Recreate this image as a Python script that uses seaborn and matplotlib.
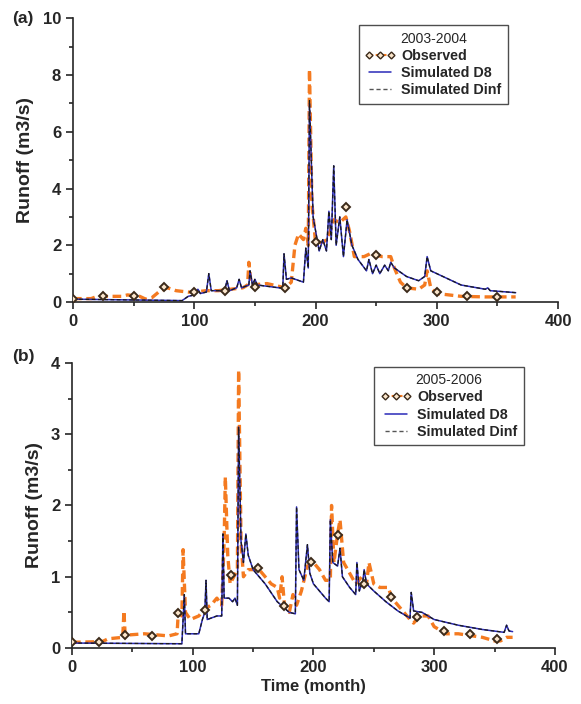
import numpy as np
import pandas as pd
import matplotlib
matplotlib.use("Agg")
import matplotlib.pyplot as plt
from matplotlib.lines import Line2D
from matplotlib.ticker import AutoMinorLocator
import seaborn as sns

# ---- panel (a) 2003-2004 ----
obs_a_day = [0, 15, 20, 40, 45, 55, 60, 65, 72, 78, 85, 95, 100, 110, 120, 130, 140, 144, 145, 147,
             160, 175, 180, 183, 186, 190, 192, 194, 195, 197, 200, 205, 210, 215, 220, 225, 228,
             232, 240, 245, 255, 262, 265, 270, 275, 285, 290, 292, 295, 300, 310, 320, 340, 365]
obs_a_val = [0.12, 0.12, 0.2, 0.2, 0.25, 0.2, 0.1, 0.15, 0.4, 0.5, 0.4, 0.35, 0.35, 0.4, 0.4, 0.45, 0.5, 0.6, 1.4, 0.6,
             0.65, 0.5, 0.7, 2.0, 2.4, 2.2, 2.6, 2.0, 8.2, 3.5, 2.1, 2.1, 2.2, 2.9, 2.8, 3.0, 2.5,
             1.6, 1.6, 1.7, 1.6, 1.6, 1.2, 0.7, 0.5, 0.45, 0.6, 1.1, 0.5, 0.3, 0.25, 0.2, 0.18, 0.18]
mark_a_day = [0, 25, 50, 75, 100, 125, 150, 175, 200, 225, 250, 275, 300, 325, 350]
mark_a_val = [0.12, 0.2, 0.22, 0.52, 0.35, 0.38, 0.52, 0.5, 2.1, 3.35, 1.65, 0.48, 0.35, 0.2, 0.18]

sim_a_day = [0, 90, 95, 100, 103, 105, 110, 112, 114, 125, 127, 129, 135, 137, 139, 145, 146, 148, 150, 152,
             170, 173, 174, 176, 180, 190, 192, 194, 195, 198, 203, 206, 209, 211, 213, 215, 217, 220,
             223, 226, 230, 235, 242, 244, 247, 250, 253, 257, 260, 262, 265, 275, 285, 290, 292, 295,
             305, 320, 340, 342, 344, 365]
sim_d8_a = [0.1, 0.05, 0.2, 0.25, 0.45, 0.3, 0.35, 1.0, 0.4, 0.4, 0.75, 0.4, 0.5, 0.8, 0.5, 0.6, 1.1, 0.6, 0.8, 0.6,
            0.5, 0.5, 1.7, 0.8, 0.85, 0.7, 1.9, 1.2, 7.0, 3.0, 1.8, 2.2, 1.8, 3.2, 2.2, 4.8, 2.0, 3.0,
            1.6, 2.9, 2.0, 1.5, 1.1, 1.5, 1.0, 1.3, 1.0, 1.3, 1.1, 1.4, 1.2, 0.9, 0.75, 0.9, 1.6, 1.1,
            0.9, 0.6, 0.45, 0.5, 0.4, 0.33]
sim_dinf_a = [0.1, 0.05, 0.2, 0.25, 0.45, 0.3, 0.35, 1.0, 0.4, 0.4, 0.75, 0.4, 0.5, 0.8, 0.5, 0.6, 1.1, 0.6, 0.8, 0.6,
              0.5, 0.5, 1.7, 0.8, 0.85, 0.7, 1.9, 1.2, 7.1, 3.0, 1.8, 2.2, 1.8, 3.2, 2.2, 4.8, 2.0, 3.0,
              1.6, 2.9, 2.0, 1.5, 1.1, 1.5, 1.0, 1.3, 1.0, 1.3, 1.1, 1.4, 1.2, 0.9, 0.75, 0.9, 1.6, 1.1,
              0.9, 0.6, 0.45, 0.5, 0.4, 0.33]

# ---- panel (b) 2005-2006 ----
obs_b_day = [0, 25, 30, 42, 43, 44, 60, 80, 87, 88, 91, 92, 94, 98, 105, 110, 115, 120, 124, 126, 127, 129,
             131, 134, 137, 138, 140, 142, 146, 155, 160, 165, 170, 172, 174, 176, 180, 183, 186, 190,
             195, 200, 205, 210, 214, 215, 217, 220, 222, 225, 230, 235, 240, 244, 246, 250, 255, 262,
             265, 270, 275, 280, 283, 288, 295, 300, 310, 320, 340, 350, 355, 360, 365]
obs_b_val = [0.08, 0.09, 0.13, 0.15, 0.52, 0.18, 0.2, 0.17, 0.2, 0.49, 0.45, 1.38, 0.5, 0.4, 0.45, 0.55, 0.6, 0.7, 0.6, 1.5, 2.4, 1.3,
             0.9, 1.0, 1.1, 3.9, 1.5, 1.0, 1.1, 1.1, 1.0, 0.9, 0.85, 0.7, 1.0, 0.6, 0.5, 0.75, 0.6, 0.8,
             1.15, 1.2, 1.1, 0.95, 0.95, 2.0, 1.2, 1.6, 1.8, 1.2, 1.05, 0.9, 1.0, 0.9, 1.2, 0.9, 0.85, 0.85,
             0.7, 0.6, 0.5, 0.4, 0.35, 0.45, 0.45, 0.3, 0.2, 0.2, 0.15, 0.1, 0.1, 0.15, 0.15]
mark_b_day = [0, 22, 44, 66, 88, 110, 132, 154, 176, 198, 220, 242, 264, 286, 308, 330, 352]
mark_b_val = [0.08, 0.09, 0.18, 0.17, 0.49, 0.53, 1.02, 1.12, 0.59, 1.2, 1.58, 0.9, 0.71, 0.43, 0.24, 0.19, 0.12]

sim_b_day = [0, 91, 92, 93, 94, 100, 105, 108, 110, 111, 112, 120, 124, 125, 126, 130, 133, 135, 137, 138,
             140, 142, 144, 146, 150, 160, 170, 180, 185, 186, 188, 192, 195, 197, 200, 210, 213, 214,
             216, 220, 222, 224, 230, 235, 236, 238, 241, 242, 244, 250, 260, 270, 280, 281, 283, 290,
             300, 320, 340, 358, 360, 362, 365]
sim_d8_b = [0.07, 0.06, 0.4, 0.75, 0.2, 0.2, 0.2, 0.4, 0.5, 0.95, 0.4, 0.45, 0.45, 1.6, 0.7, 0.7, 0.65, 0.7, 0.6, 3.1,
            1.5, 1.2, 1.6, 1.3, 1.1, 0.9, 0.65, 0.5, 0.48, 1.98, 1.1, 0.95, 1.45, 1.05, 0.9, 0.7, 0.65, 1.8,
            1.2, 1.15, 1.4, 1.0, 0.85, 0.75, 1.2, 0.8, 0.95, 1.1, 0.9, 0.8, 0.65, 0.52, 0.42, 0.78, 0.52, 0.5,
            0.4, 0.32, 0.26, 0.22, 0.32, 0.24, 0.23]
sim_dinf_b = [0.07, 0.06, 0.4, 0.75, 0.2, 0.2, 0.2, 0.4, 0.5, 0.95, 0.4, 0.45, 0.45, 1.6, 0.7, 0.7, 0.65, 0.7, 0.6, 3.1,
              1.5, 1.2, 1.6, 1.3, 1.1, 0.9, 0.65, 0.5, 0.48, 1.98, 1.1, 0.95, 1.45, 1.05, 0.9, 0.7, 0.65, 1.8,
              1.2, 1.15, 1.4, 1.0, 0.85, 0.75, 1.2, 0.8, 0.95, 1.1, 0.9, 0.8, 0.65, 0.52, 0.42, 0.78, 0.52, 0.5,
              0.4, 0.32, 0.26, 0.22, 0.32, 0.24, 0.23]

ORANGE = "#f47a20"
BLUE = "#2a2ab8"
MARK_FACE = "#fbe6cc"
MARK_EDGE = "#3b2a1a"

sns.set_style("ticks")
plt.rcParams["font.family"] = ["Liberation Sans", "DejaVu Sans"]
plt.rcParams["xtick.direction"] = "out"
plt.rcParams["ytick.direction"] = "out"


def draw_panel(ax, obs_day, obs_val, mark_day, mark_val, sim_day, d8, dinf, ymax, ystep, title, anchor):
    sns.lineplot(x=obs_day, y=obs_val, ax=ax, color=ORANGE, linestyle=(0, (2.6, 1.4)),
                 linewidth=2.4, estimator=None, sort=False)
    sns.lineplot(x=sim_day, y=d8, ax=ax, color=BLUE, linewidth=1.1, estimator=None, sort=False)
    sns.lineplot(x=sim_day, y=dinf, ax=ax, color="#1a1a1a", linestyle=(0, (3, 2)),
                 linewidth=0.9, estimator=None, sort=False)
    ax.plot(mark_day, mark_val, linestyle="none", marker="D", markersize=4.5,
            markerfacecolor=MARK_FACE, markeredgecolor=MARK_EDGE, markeredgewidth=1.4, zorder=5)

    ax.set_xlim(0, 400)
    ax.set_ylim(0, ymax)
    ax.set_xticks(np.arange(0, 401, 100))
    ax.set_yticks(np.arange(0, ymax + 0.01, ystep))
    ax.yaxis.set_minor_locator(AutoMinorLocator(2))
    ax.xaxis.set_minor_locator(AutoMinorLocator(2))
    ax.tick_params(which="major", length=5, width=1.2, labelsize=12)
    ax.tick_params(which="minor", length=3, width=1.2)
    for lab in ax.get_xticklabels() + ax.get_yticklabels():
        lab.set_fontweight("bold")
    for s in ["left", "bottom"]:
        ax.spines[s].set_linewidth(1.2)
    sns.despine(ax=ax)
    ax.set_ylabel("Runoff (m3/s)", fontsize=14, fontweight="bold", labelpad=6)
    ax.set_xlabel("")

    handles = [
        Line2D([], [], color=ORANGE, linestyle=(0, (2, 1.2)), linewidth=1.5, marker="D", markersize=3.5,
               markerfacecolor=MARK_FACE, markeredgecolor=MARK_EDGE),
        Line2D([], [], color=BLUE, linewidth=1.1),
        Line2D([], [], color="#555555", linestyle=(0, (3, 2)), linewidth=1.0),
    ]
    leg = ax.legend(handles, ["Observed", "Simulated D8", "Simulated Dinf"], title=title,
                    loc="upper right", bbox_to_anchor=anchor, numpoints=3, fontsize=10.3,
                    title_fontsize=10, frameon=True, fancybox=False, borderpad=0.45,
                    handlelength=2.1, handletextpad=0.45, labelspacing=0.22, borderaxespad=0)
    leg.get_frame().set_edgecolor("#222222")
    leg.get_frame().set_linewidth(1.0)
    for t in leg.get_texts():
        t.set_fontweight("bold")


fig = plt.figure(figsize=(5.81, 7.04), dpi=100)
ax_a = fig.add_axes([0.1256, 0.571, 0.835, 0.403])
ax_b = fig.add_axes([0.124, 0.0795, 0.831, 0.405])

draw_panel(ax_a, obs_a_day, obs_a_val, mark_a_day, mark_a_val, sim_a_day, sim_d8_a, sim_dinf_a,
           10, 2, "2003-2004", (0.897, 0.975))
draw_panel(ax_b, obs_b_day, obs_b_val, mark_b_day, mark_b_val, sim_b_day, sim_d8_b, sim_dinf_b,
           4, 1, "2005-2006", (0.936, 0.986))
ax_b.set_xlabel("Time (month)", fontsize=12, fontweight="bold", labelpad=3)

fig.text(12 / 581, 1 - 18 / 704, "(a)", fontsize=12.5, fontweight="bold", ha="left", va="center")
fig.text(12 / 581, 1 - 356 / 704, "(b)", fontsize=12.5, fontweight="bold", ha="left", va="center")

fig.savefig("out.png", dpi=100)
